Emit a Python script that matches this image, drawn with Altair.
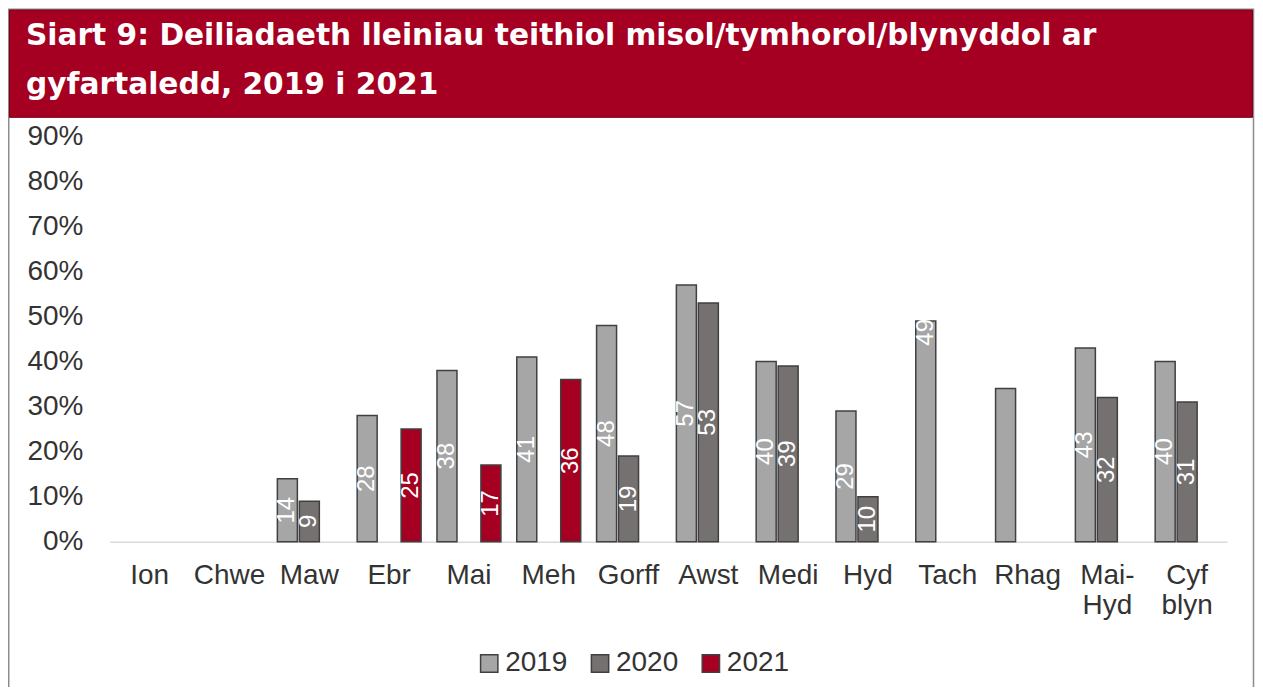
import altair as alt
import pandas as pd

categories = ["Ion", "Chwe", "Maw", "Ebr", "Mai", "Meh", "Gorff", "Awst",
              "Medi", "Hyd", "Tach", "Rhag", "Mai-Hyd", "Cyf blyn"]
years = ["2019", "2020", "2021"]
v2019 = [None, None, 14, 28, 38, 41, 48, 57, 40, 29, 49, 34, 43, 40]
v2020 = [None, None, 9, None, None, None, 19, 53, 39, 10, None, None, 32, 31]
v2021 = [None, None, None, 25, 17, 36, None, None, None, None, None, None, None, None]
y_ticks = [0, 10, 20, 30, 40, 50, 60, 70, 80, 90]
title_lines = ["Siart 9: Deiliadaeth lleiniau teithiol misol/tymhorol/blynyddol ar",
               "gyfartaledd, 2019 i 2021"]
colors = ["#A6A6A6", "#767171", "#A50021"]

# labels drawn at the bar end / not drawn in the original
label_end = {("Tach", "2019")}
label_hidden = {("Rhag", "2019")}

rows = []
for year, vals in zip(years, [v2019, v2020, v2021]):
    for cat, v in zip(categories, vals):
        if v is not None:
            pos = "mid"
            if (cat, year) in label_end:
                pos = "end"
            if (cat, year) in label_hidden:
                pos = "none"
            rows.append({"cat": cat, "year": year, "value": v, "pos": pos})
df = pd.DataFrame(rows)

W, H = 1119, 406
PL, PT, PR, PB = 102, 128, 28, 145
FONT = "Liberation Sans"

xaxis = alt.Axis(title=None, labelAngle=0, ticks=False, grid=False,
                 domainColor="#D9D9D9", domainWidth=1.5,
                 labelFontSize=28, labelColor="#333333", labelPadding=20,
                 labelBaseline="top", labelLineHeight=30,
                 labelExpr="datum.value == 'Mai-Hyd' ? ['Mai-', 'Hyd'] : split(datum.value, ' ')")
yaxis = alt.Axis(title=None, values=y_ticks, labelExpr="datum.value + '%'",
                 ticks=False, domain=False, grid=False,
                 labelFontSize=28, labelColor="#333333", labelPadding=27)

xenc = alt.X("cat:N", sort=categories,
             scale=alt.Scale(domain=categories, paddingInner=0.174, paddingOuter=0.087),
             axis=xaxis)
xoff = alt.XOffset("year:N",
                   scale=alt.Scale(domain=years, paddingInner=0.09, paddingOuter=0.045))
yscale = alt.Scale(domain=[0, 90], nice=False, zero=True)

base = alt.Chart(df)

bars = base.mark_bar(stroke="#404040", strokeWidth=1.5).encode(
    x=xenc, xOffset=xoff,
    y=alt.Y("value:Q", scale=yscale, axis=yaxis),
    color=alt.Color("year:N", scale=alt.Scale(domain=years, range=colors),
                    legend=alt.Legend(orient="none", direction="horizontal", title=None,
                                      legendX=366, legendY=514,
                                      symbolType="square", symbolSize=300,
                                      symbolStrokeColor="#404040", symbolStrokeWidth=1.5,
                                      labelFontSize=28, labelColor="#333333",
                                      labelOffset=2, columnPadding=18)),
)

mid_labels = base.transform_filter("datum.pos == 'mid'").transform_calculate(
    mid="datum.value / 2"
).mark_text(angle=270, color="white", fontSize=24, align="center", baseline="middle").encode(
    x=xenc, xOffset=xoff,
    y=alt.Y("mid:Q", scale=yscale, axis=yaxis),
    text="value:Q",
)

end_labels = base.transform_filter("datum.pos == 'end'").mark_text(
    angle=270, color="white", fontSize=24, align="right", baseline="middle", dx=2
).encode(
    x=xenc, xOffset=xoff,
    y=alt.Y("value:Q", scale=yscale, axis=yaxis),
    text="value:Q",
)

one = alt.Data(values=[{"k": 0}])

border = alt.Chart(one).mark_rect(fillOpacity=0, stroke="#8C8C8C", strokeWidth=1.5).encode(
    x=alt.value(-PL + 0.75), x2=alt.value(W + PR - 1.5),
    y=alt.value(-PT + 0.75), y2=alt.value(H + PB + 5),
)

banner = alt.Chart(one).mark_rect(color="#A50021", stroke="#7A0018", strokeWidth=1).encode(
    x=alt.value(-PL + 1.5), x2=alt.value(W + PR - 2.5),
    y=alt.value(-PT + 1.5), y2=alt.value(-19),
)

t1 = alt.Chart(one).mark_text(text=title_lines[0], color="white", fontSize=29.7, font="DejaVu Sans",
                              fontWeight="bold", align="left", baseline="alphabetic").encode(
    x=alt.value(-84), y=alt.value(-91))
t2 = alt.Chart(one).mark_text(text=title_lines[1], color="white", fontSize=29.7, font="DejaVu Sans",
                              fontWeight="bold", align="left", baseline="alphabetic").encode(
    x=alt.value(-84), y=alt.value(-42))

chart = alt.layer(border, banner, t1, t2, bars, mid_labels, end_labels).properties(
    width=W, height=H,
    autosize=alt.AutoSizeParams(type="none"),
    padding={"left": PL, "top": PT, "right": PR, "bottom": PB},
).configure(font=FONT).configure_view(stroke=None)

chart.save("out.html", embed_options={"renderer": "svg", "actions": False})
